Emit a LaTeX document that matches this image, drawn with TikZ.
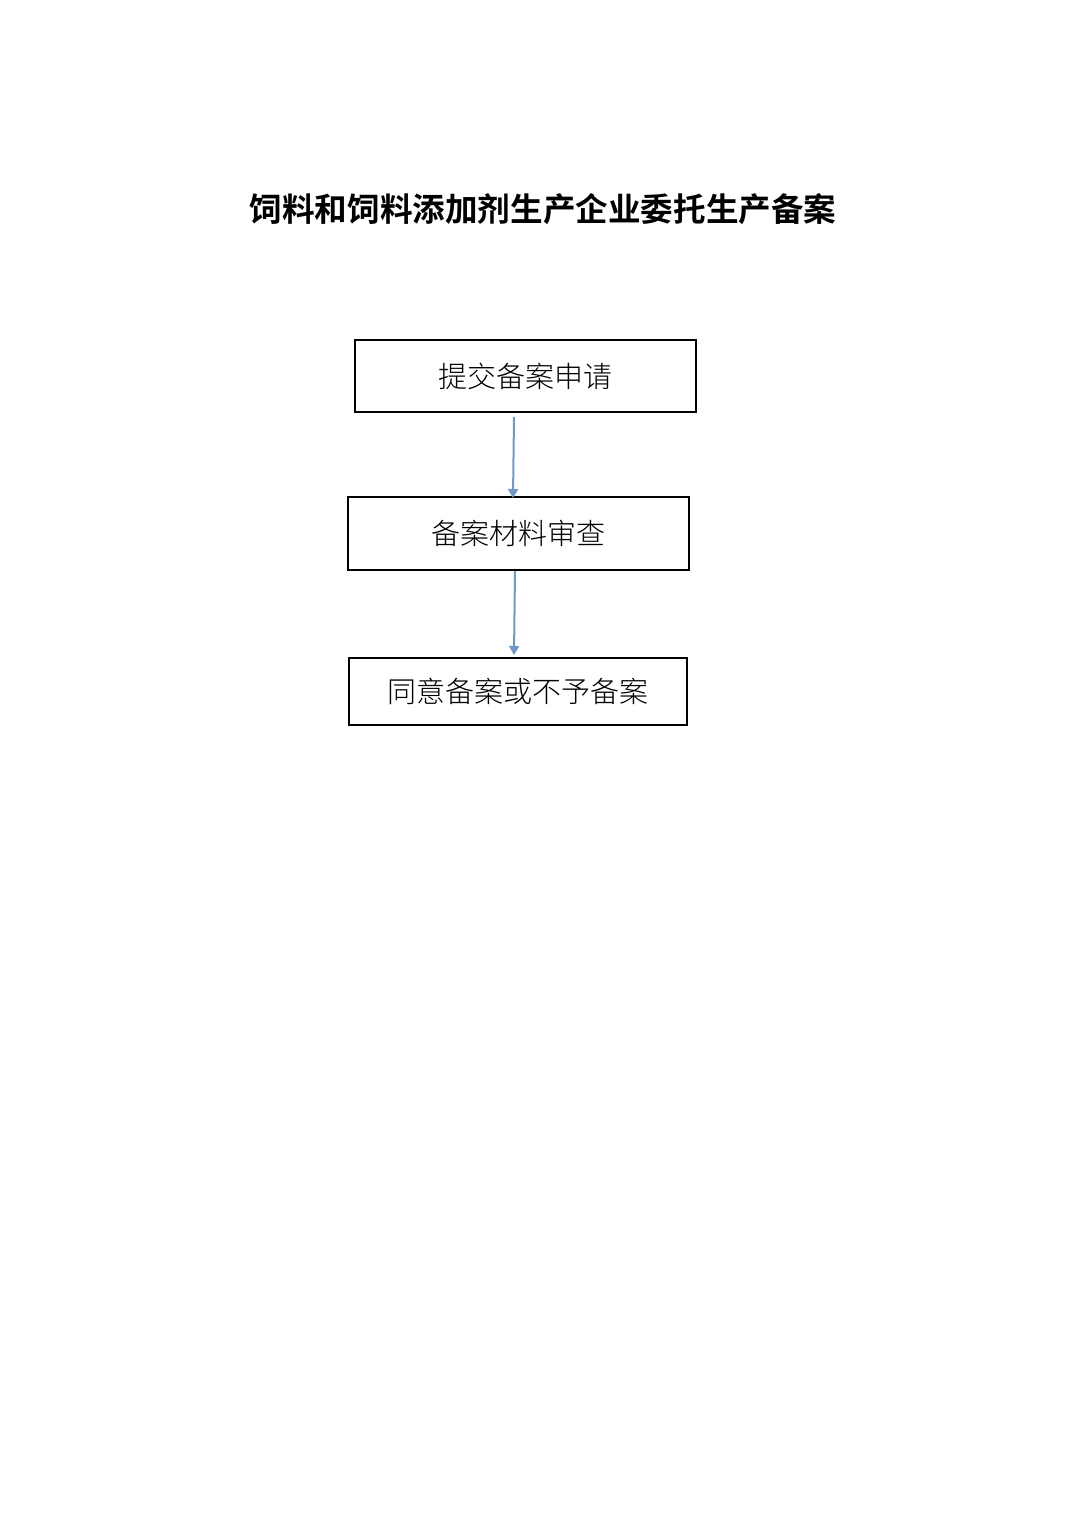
\documentclass[tikz,border=0pt]{standalone}
\usepackage{fontspec}
\newfontfamily\cjk{Noto Sans CJK SC}
\newfontfamily\cjkbold{Noto Sans CJK SC Bold}
\newfontfamily\cjklight{Noto Sans CJK SC Light}
\usetikzlibrary{arrows.meta}
\begin{document}
\begin{tikzpicture}[x=1pt,y=-1pt,
  stepbox/.style={draw=black,line width=1.3pt,inner sep=0pt,font=\cjklight\fontsize{29}{29}\selectfont},
  flow/.style={draw={rgb,255:red,110;green,153;blue,200},line width=2pt,-{Triangle[length=9pt,width=10pt]}}]
\useasboundingbox (0,0) rectangle (1075,1520);
\node[font=\cjkbold\fontsize{32.6}{32.6}\selectfont] (title) at (543,209) {饲料和饲料添加剂生产企业委托生产备案};
\node[stepbox,minimum width=341pt,minimum height=72pt] (b1) at (525.5,376) {提交备案申请};
\node[stepbox,minimum width=341pt,minimum height=73pt] (b2) at (518.5,533.5) {备案材料审查};
\node[stepbox,minimum width=338pt,minimum height=67pt] (b3) at (518,691.5) {同意备案或不予备案};
\coordinate (a1s) at (514,417);
\coordinate (a1e) at (513,498);
\coordinate (a2s) at (515,571);
\coordinate (a2e) at (514,655);
\draw[flow] (a1s) -- (a1e);
\draw[flow] (a2s) -- (a2e);
\end{tikzpicture}
\end{document}
